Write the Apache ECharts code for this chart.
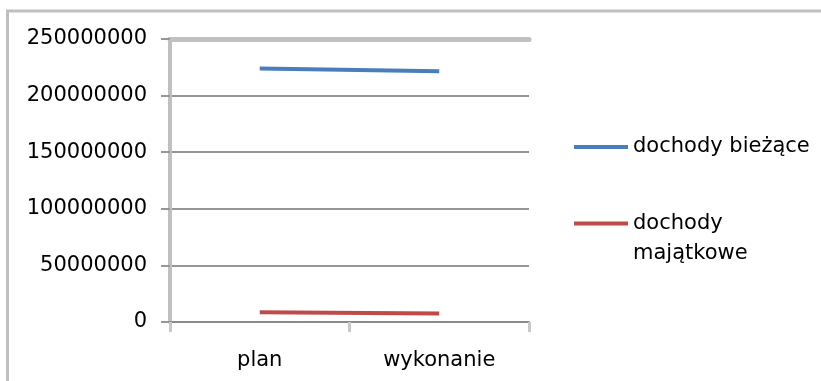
<!DOCTYPE html>
<html>
<head>
<meta charset="utf-8">
<script src="https://cdn.jsdelivr.net/npm/echarts@6/dist/echarts.min.js"></script>
<style>
  html, body { margin: 0; padding: 0; background: #fff; }
  #chart { width: 821px; height: 381px; }
</style>
</head>
<body>
<div id="chart"></div>
<script>
// dane
const categories = ['plan', 'wykonanie'];
const dochodyBiezace = [224000000, 221500000];
const dochodyMajatkowe = [8600000, 7600000];
const seriesNames = ['dochody bieżące', 'dochody majątkowe'];

const font = 'DejaVu Sans';
const colors = {
    blue: '#4a7ebb',
    red: '#be4b48',
    frame: '#c0c0c0',
    grid: '#969696',
    text: '#000000'
};

const chart = echarts.init(document.getElementById('chart'));

const option = {
    animation: false,
    backgroundColor: '#ffffff',
    graphic: [{
        // ramka obszaru wykresu
        type: 'rect',
        shape: { x: 7.5, y: 11, width: 900, height: 500 },
        style: { fill: 'none', stroke: colors.frame, lineWidth: 3 },
        silent: true
    }],
    grid: { left: 170, right: 292, top: 39, bottom: 59 },
    legend: [{
        data: [seriesNames[0]],
        orient: 'vertical',
        left: 569,
        top: 127,
        icon: 'rect',
        itemWidth: 54,
        itemHeight: 4,
        textStyle: { fontFamily: font, fontSize: 21, color: colors.text, lineHeight: 30 }
    }, {
        data: [seriesNames[1]],
        orient: 'vertical',
        left: 569,
        top: 178,
        icon: 'rect',
        itemWidth: 54,
        itemHeight: 4,
        formatter: name => '{pad| }\n' + name.split(' ').map(w => '{t|' + w + '}').join('\n'),
        textStyle: {
            fontFamily: font, fontSize: 21, color: colors.text,
            rich: {
                pad: { fontSize: 21, lineHeight: 30 },
                t: { fontFamily: font, fontSize: 21, color: colors.text, lineHeight: 30 }
            }
        }
    }],
    xAxis: [{
        type: 'category',
        data: categories,
        axisLine: { lineStyle: { color: '#8a8a8a', width: 2 } },
        axisTick: { show: true, length: 10, lineStyle: { color: '#c8c8c8', width: 3 } },
        axisLabel: { fontFamily: font, fontSize: 21, color: colors.text, margin: 28 },
        splitLine: { show: false }
    }, {
        // górna krawędź siatki
        type: 'category',
        data: categories,
        position: 'top',
        axisLine: { lineStyle: { color: colors.frame, width: 5 } },
        axisTick: { show: false },
        axisLabel: { show: false }
    }],
    yAxis: {
        type: 'value',
        min: 0,
        max: 250000000,
        interval: 50000000,
        axisLine: { show: true, lineStyle: { color: colors.frame, width: 4 } },
        axisTick: { show: true, length: 9, lineStyle: { color: colors.grid, width: 2 } },
        axisLabel: {
            fontFamily: font, fontSize: 21, color: colors.text, margin: 23,
            formatter: v => String(v)
        },
        splitLine: {
            lineStyle: {
                color: [colors.grid, colors.grid, colors.grid, colors.grid, colors.grid, colors.frame],
                width: 2
            }
        }
    },
    series: [{
        name: seriesNames[0],
        type: 'line',
        data: dochodyBiezace,
        showSymbol: false,
        symbol: 'none',
        lineStyle: { color: colors.blue, width: 4 },
        itemStyle: { color: colors.blue }
    }, {
        name: seriesNames[1],
        type: 'line',
        data: dochodyMajatkowe,
        showSymbol: false,
        symbol: 'none',
        lineStyle: { color: colors.red, width: 4 },
        itemStyle: { color: colors.red }
    }]
};

chart.setOption(option);
</script>
</body>
</html>
